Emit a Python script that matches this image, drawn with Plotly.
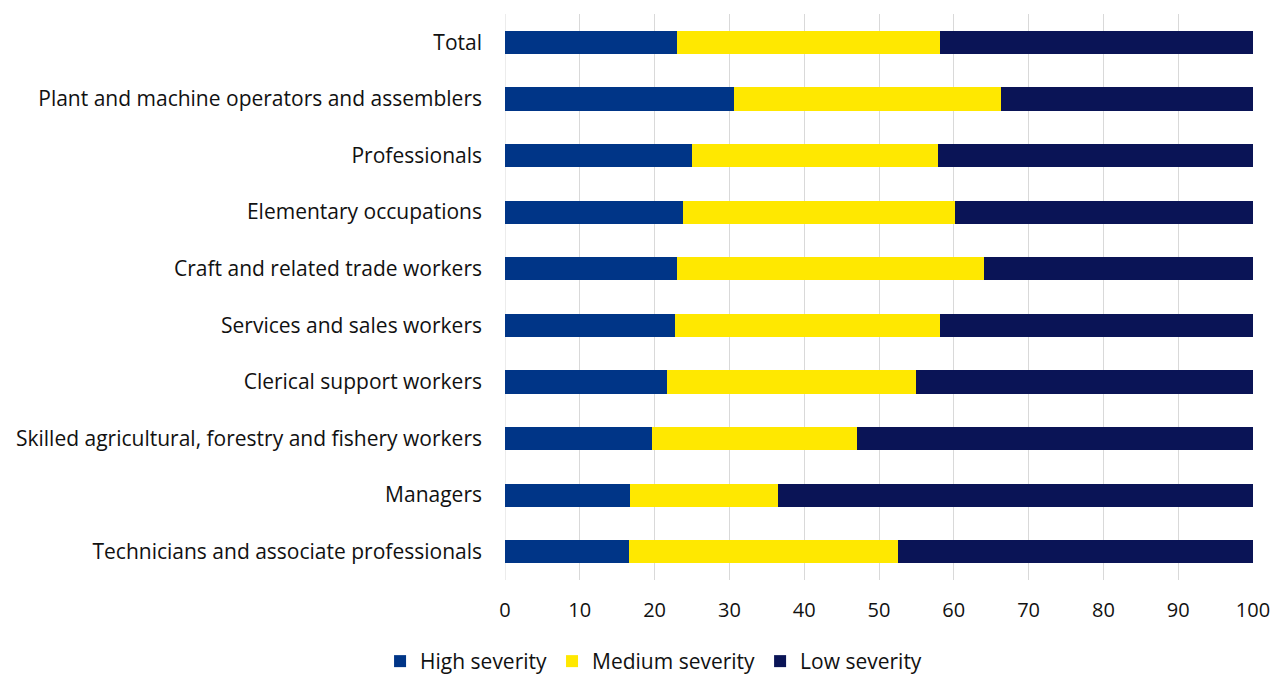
import plotly.graph_objects as go

categories = [
    "Total",
    "Plant and machine operators and assemblers",
    "Professionals",
    "Elementary occupations",
    "Craft and related trade workers",
    "Services and sales workers",
    "Clerical support workers",
    "Skilled agricultural, forestry and fishery workers",
    "Managers",
    "Technicians and associate professionals",
]
high = [23.0, 30.6, 25.0, 23.8, 23.0, 22.7, 21.7, 19.7, 16.7, 16.6]
medium = [35.2, 35.7, 32.9, 36.4, 41.0, 35.5, 33.2, 27.4, 19.8, 35.9]
low = [round(100 - h - m, 1) for h, m in zip(high, medium)]

series_names = ["High severity", "Medium severity", "Low severity"]
colors = ["#003587", "#FFE800", "#0A1456"]

fig = go.Figure()
for name, vals, col in zip(series_names, [high, medium, low], colors):
    fig.add_trace(go.Bar(
        y=categories, x=vals, name=name, orientation="h",
        marker=dict(color=col, line=dict(width=0)),
        width=0.41,
    ))

fig.update_layout(
    barmode="stack",
    width=1274, height=679,
    margin=dict(l=505, r=21, t=14, b=99),
    plot_bgcolor="white", paper_bgcolor="white",
    font=dict(family="Open Sans, sans-serif", size=19, color="#111111"),
    showlegend=True,
    legend=dict(orientation="h", xref="container", yref="container",
                x=0.513, xanchor="center", y=0.056, yanchor="top",
                font=dict(size=21), traceorder="normal",
                itemwidth=30),
    xaxis=dict(range=[0, 100], dtick=10, showgrid=True, gridcolor="#d9d9d9",
               gridwidth=1, zeroline=False, ticks="", showline=False,
               ticklabelstandoff=16, automargin=False,
               tickfont=dict(size=20)),
    yaxis=dict(autorange="reversed", showgrid=False, ticks="",
               ticklabelstandoff=22, showline=False, automargin=False,
               tickfont=dict(size=21)),
    bargap=0.6,
)
fig.add_vline(x=0, line=dict(color="#d9d9d9", width=1), layer="below")

fig.write_html("out.html", config={"displayModeBar": False},
               post_script="document.body.style.margin='0';")
